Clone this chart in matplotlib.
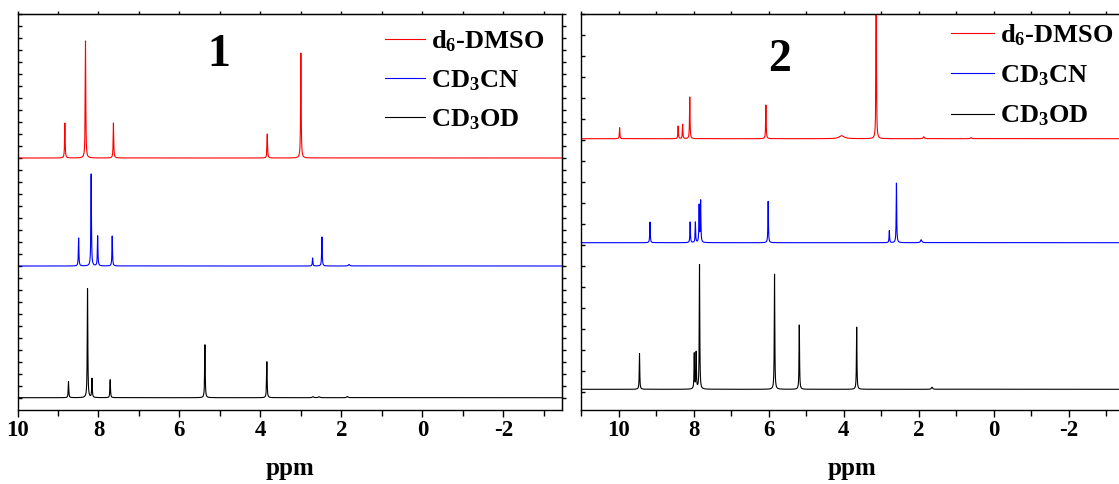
import numpy as np
import matplotlib
matplotlib.use("Agg")
import matplotlib.pyplot as plt
from matplotlib.ticker import MultipleLocator, FixedLocator

plt.rcParams["font.family"] = ["Liberation Serif", "DejaVu Serif"]
plt.rcParams["font.weight"] = "bold"
plt.rcParams["axes.unicode_minus"] = False
plt.rcParams["mathtext.fontset"] = "custom"
plt.rcParams["mathtext.rm"] = "Liberation Serif:bold"
plt.rcParams["mathtext.it"] = "Liberation Serif:bold"
plt.rcParams["mathtext.bf"] = "Liberation Serif:bold"

# ---- solvents ----
solvents = ["d$_6$-DMSO", "CD$_3$CN", "CD$_3$OD"]
colors = ["#ff0000", "#0000ff", "#000000"]

# ---- compound 1: peak positions (ppm) and intensities ----
c1_dmso_ppm = [8.83, 8.32, 7.63, 3.83, 3.00]
c1_dmso_int = [35, 117, 35, 24, 105]
c1_cd3cn_ppm = [8.49, 8.18, 8.02, 7.66, 2.71, 2.48, 1.81]
c1_cd3cn_int = [28, 92, 30, 30, 8, 29, 1.5]
c1_cd3od_ppm = [8.74, 8.27, 8.16, 7.71, 5.37, 3.84, 2.70, 2.55, 1.85]
c1_cd3od_int = [16, 109, 19, 18, 53, 36, 1, 1, 1.2]
c1_offsets = [252, 144, 12.3]

# ---- compound 2: peak positions (ppm) and intensities ----
c2_dmso_ppm = [9.97, 8.41, 8.29, 8.10, 6.07, 4.05, 3.13, 1.86, 0.60]
c2_dmso_int = [11, 12.7, 14.4, 41.7, 33.7, 3, 150, 2, 1]
c2_cd3cn_ppm = [9.16, 8.09, 7.95, 7.85, 7.81, 6.01, 2.78, 2.59, 1.93]
c2_cd3cn_int = [20.7, 20.7, 20.4, 37, 41.4, 41.4, 12, 59.7, 3]
c2_cd3od_ppm = [9.44, 7.98, 7.93, 7.84, 5.84, 5.18, 3.65, 1.64]
c2_cd3od_int = [35.7, 35.3, 36.3, 124.7, 115.3, 64.3, 62.3, 2]
c2_offsets = [271.3, 167.3, 20.7]

# x ranges (ppm, descending) and tick labels
c1_xlim = (10.0, -3.45)
c2_xlim = (11.0, -3.45)
xtick_major = [10, 8, 6, 4, 2, 0, -2]
compound_labels = ["1", "2"]


def spectrum(grid, centers, heights):
    """Sum of Lorentzian lines; broad line for weak humps."""
    y = np.zeros_like(grid)
    for c, h in zip(centers, heights):
        w = 0.08 if (h <= 3 and abs(c - 4.05) < 0.01) else (0.02 if h <= 3 else 0.008)
        y += h / (1.0 + ((grid - c) / w) ** 2)
    return y


W, H = 1119, 484
fig = plt.figure(figsize=(W / 100, H / 100), dpi=100)


def px_axes(left, top, right, bottom):
    return fig.add_axes([left / W, 1 - bottom / H, (right - left) / W, (bottom - top) / H])


ax1 = px_axes(17.5, 14, 562, 410)
ax2 = px_axes(581, 14, 1123, 410)

panels = [
    (ax1, c1_xlim, [(c1_dmso_ppm, c1_dmso_int), (c1_cd3cn_ppm, c1_cd3cn_int),
                    (c1_cd3od_ppm, c1_cd3od_int)], c1_offsets, 12, compound_labels[0],
     (219, 55), (385, 28), 1.52, 0.55),
    (ax2, c2_xlim, [(c2_dmso_ppm, c2_dmso_int), (c2_cd3cn_ppm, c2_cd3cn_int),
                    (c2_cd3od_ppm, c2_cd3od_int)], c2_offsets, 21, compound_labels[1],
     (780, 60), (951, 22), 1.63, 0.6),
]

for ax, xlim, series, offsets, ystep, label, lab_xy, leg_xy, hlen, lspace in panels:
    grid = np.linspace(xlim[1], xlim[0], 20000)
    for (pp, ii), off, col, name in zip(series, offsets, colors, solvents):
        ax.plot(grid, spectrum(grid, pp, ii) + off, color=col, lw=0.8, label=name)
    ax.set_xlim(*xlim)
    ax.set_ylim(0, 396)
    for s in ax.spines.values():
        s.set_linewidth(1.0)
    ax.xaxis.set_major_locator(FixedLocator(xtick_major))
    ax.xaxis.set_minor_locator(MultipleLocator(1))
    ax.tick_params(axis="x", which="major", direction="out", length=5, width=1.0,
                   labelsize=16.5, pad=2)
    ax.tick_params(axis="x", which="minor", direction="out", length=4, width=1.0)
    ax.yaxis.set_major_locator(FixedLocator(np.arange(396, 0, -ystep)))
    ax.tick_params(axis="y", which="both", direction="in", length=3, width=1.0,
                   labelleft=False)
    for t in ax.get_xticklabels():
        t.set_fontweight("bold")
    ax.set_xlabel("ppm", fontsize=18, fontweight="bold", labelpad=12)

    top = ax.secondary_xaxis("top")
    top.xaxis.set_major_locator(MultipleLocator(1))
    top.tick_params(direction="out", length=2, width=1.0, labeltop=False)

    right = ax.secondary_yaxis("right")
    right.yaxis.set_major_locator(FixedLocator(np.arange(396, 0, -ystep)))
    right.tick_params(direction="out", length=3, width=1.0, labelright=False)

    fig.text(lab_xy[0] / W, 1 - lab_xy[1] / H, label, fontsize=33, fontweight="bold",
             ha="center", va="center")

    ax.legend(loc="upper left", bbox_to_anchor=(leg_xy[0] / W, 1 - leg_xy[1] / H),
              bbox_transform=fig.transFigure, frameon=False, fontsize=19,
              handlelength=hlen, handletextpad=0.23, labelspacing=lspace,
              borderpad=0, borderaxespad=0)

fig.savefig("out.png", dpi=100)
